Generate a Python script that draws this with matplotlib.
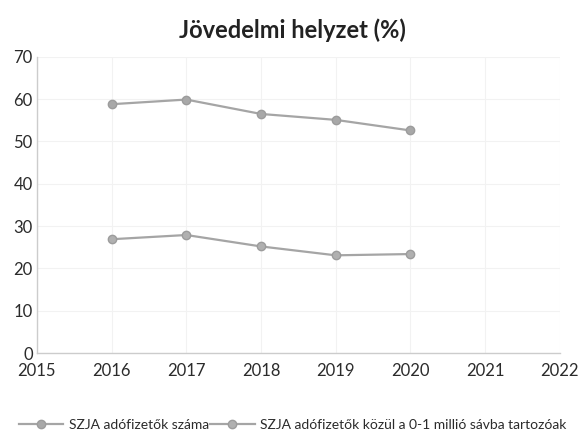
import matplotlib
matplotlib.use('Agg')
import matplotlib.pyplot as plt

plt.rcParams['font.family'] = ['Lato', 'DejaVu Sans']

# data
years = [2016, 2017, 2018, 2019, 2020]
adofizetok = [58.8, 59.9, 56.5, 55.1, 52.6]
adofizetok_0_1 = [26.9, 27.9, 25.2, 23.1, 23.4]
labels = ['SZJA adófizetők száma', 'SZJA adófizetők közül a 0-1 millió sávba tartozóak']
x_ticks = [2015, 2016, 2017, 2018, 2019, 2020, 2021, 2022]
y_ticks = [0, 10, 20, 30, 40, 50, 60, 70]

fig = plt.figure(figsize=(5.85, 4.37), dpi=100)
ax = fig.add_axes([0.063, 0.192, 0.894, 0.678])

ax.plot(years, adofizetok, color='#a5a5a5', lw=1.6, marker='o', ms=6,
        mfc='#a8a8a8', mec='#9c9c9c', label=labels[0])
ax.plot(years, adofizetok_0_1, color='#a5a5a5', lw=1.6, marker='o', ms=6,
        mfc='#b0b0b0', mec='#9c9c9c', label=labels[1])

ax.set_xlim(2015, 2022)
ax.set_ylim(0, 70)
ax.set_xticks(x_ticks)
ax.set_yticks(y_ticks)
ax.tick_params(length=0, labelsize=12, labelcolor='#2b2b2b')
ax.tick_params(axis='x', pad=7)
ax.tick_params(axis='y', pad=3)
ax.grid(True, color='#f2f2f2', lw=0.8)
for side in ['top', 'right']:
    ax.spines[side].set_visible(False)
for side in ['left', 'bottom']:
    ax.spines[side].set_color('#cccccc')
    ax.spines[side].set_linewidth(1.0)

fig.suptitle('Jövedelmi helyzet (%)', y=0.958, fontsize=17, fontweight='bold', color='#222222')

fig.legend(loc='center', bbox_to_anchor=(0.5, 0.028), ncol=2, frameon=False,
           fontsize=10, handlelength=3.2, columnspacing=0.1, handletextpad=0.4,
           labelcolor='#2b2b2b')

fig.savefig('out.png', dpi=100)
